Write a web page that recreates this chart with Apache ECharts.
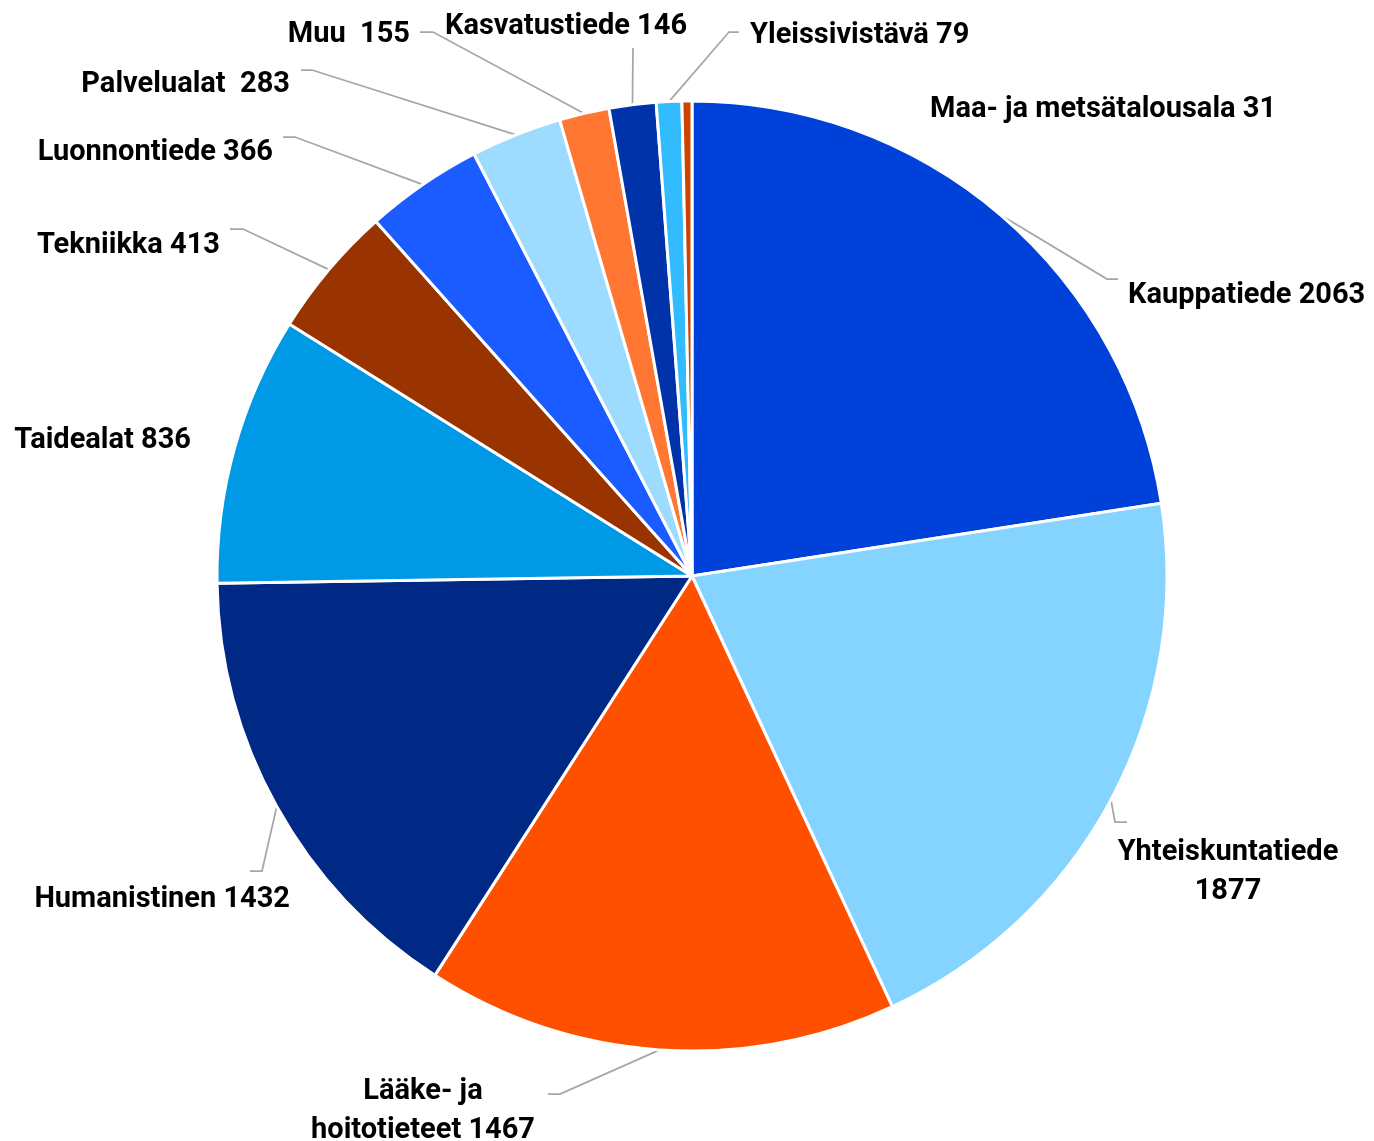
<!DOCTYPE html>
<html>
<head>
<meta charset="utf-8">
<script src="https://cdn.jsdelivr.net/npm/echarts@6/dist/echarts.min.js"></script>
<style>
  html, body { margin: 0; padding: 0; background: #ffffff; }
  #chart { width: 1374px; height: 1141px; }
</style>
</head>
<body>
<div id="chart"></div>
<script>
// ---- data ----
const categories = ['Kauppatiede', 'Yhteiskuntatiede', 'Lääke- ja hoitotieteet', 'Humanistinen', 'Taidealat', 'Tekniikka', 'Luonnontiede', 'Palvelualat', 'Muu', 'Kasvatustiede', 'Yleissivistävä', 'Maa- ja metsätalousala'];
const values = [2063, 1877, 1467, 1432, 836, 413, 366, 283, 155, 146, 79, 31];
const labelNames = ['Kauppatiede', 'Yhteiskuntatiede', 'Lääke- ja\nhoitotieteet', 'Humanistinen', 'Taidealat', 'Tekniikka', 'Luonnontiede', 'Palvelualat', 'Muu', 'Kasvatustiede', 'Yleissivistävä', 'Maa- ja metsätalousala'];
const labelSeparators = [' ', '\n', ' ', ' ', ' ', ' ', ' ', '  ', '  ', ' ', ' ', ' '];

// ---- styles / layout ----
const colors = ['#0041D9', '#85D3FF', '#FF5000', '#002885', '#0099E6', '#993300', '#1A5CFF', '#9EDCFF', '#FF7733', '#0033AA', '#33BBFF', '#CC4400'];
// label anchor: [x, y, align]
const labelAnchors = [
  [1128, 296, 'left'],
  [1228, 872, 'center'],
  [423, 1111, 'center'],
  [290, 900, 'right'],
  [191, 441, 'right'],
  [220, 246, 'right'],
  [273, 153, 'right'],
  [290, 85, 'right'],
  [410, 35, 'right'],
  [566, 27, 'center'],
  [750, 36, 'left'],
  [930, 110, 'left']
];
// leader line elbow & end: [elbowX, elbowY, endX, endY] or null
const leaderEnds = [
  [1107, 279, 1118, 279],
  [1115, 822, 1127, 822],
  [560, 1094, 548, 1094],
  [262, 871, 250, 871],
  null,
  [243, 229, 230, 229],
  [295, 137, 283, 137],
  [312, 70, 301, 70],
  [433, 32, 420, 32],
  [633, 48, 633, 48],
  [729, 32, 739, 32],
  null
];

const seriesData = categories.map((c, i) => ({
  name: c,
  value: values[i],
  itemStyle: { color: colors[i] },
  labelLine: { show: leaderEnds[i] !== null }
}));

const chart = echarts.init(document.getElementById('chart'), null, { renderer: 'canvas' });
chart.setOption({
  backgroundColor: '#ffffff',
  animation: false,
  series: [{
    type: 'pie',
    center: [692, 576],
    radius: 475,
    startAngle: 90,
    clockwise: true,
    avoidLabelOverlap: false,
    data: seriesData,
    itemStyle: { borderColor: '#ffffff', borderWidth: 3 },
    label: {
      show: true,
      position: 'outside',
      color: '#000000',
      fontFamily: 'Roboto, sans-serif',
      fontWeight: 'bold',
      fontSize: 29,
      lineHeight: 39,
      formatter: p => labelNames[p.dataIndex] + labelSeparators[p.dataIndex] + values[p.dataIndex]
    },
    labelLine: {
      show: true,
      length: 20,
      length2: 10,
      lineStyle: { color: '#A6A6A6', width: 1.75 }
    },
    labelLayout: function (params) {
      const i = params.dataIndex;
      const a = labelAnchors[i];
      const out = { x: a[0], y: a[1], align: a[2], verticalAlign: 'middle' };
      const le = leaderEnds[i];
      if (le && params.labelLinePoints) {
        const start = params.labelLinePoints[0];
        out.labelLinePoints = [[start[0], start[1]], [le[0], le[1]], [le[2], le[3]]];
      }
      return out;
    }
  }]
});
</script>
</body>
</html>
